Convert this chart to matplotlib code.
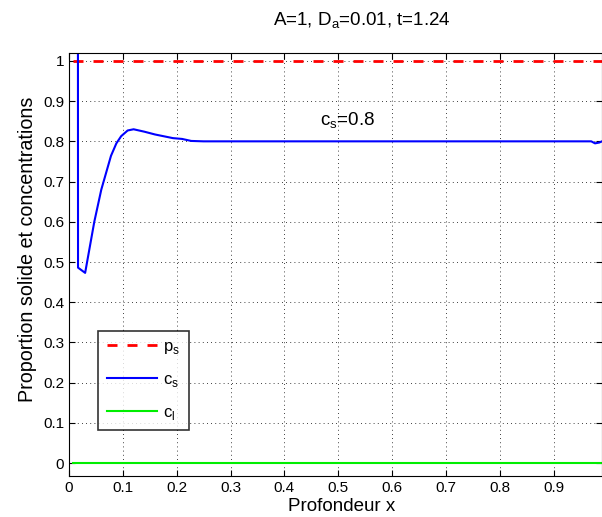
import matplotlib
matplotlib.use("Agg")
import matplotlib.pyplot as plt
import numpy as np

plt.rcParams['font.family'] = ['Liberation Sans', 'DejaVu Sans']

# depth grid for the flat profiles
x_flat = [0.008, 0.99]
ps_flat = [1.0, 1.0]
cl_flat = [0.0, 0.0]

# c_s profile
cs_x = [0.016, 0.0168, 0.03, 0.047, 0.06, 0.078, 0.088, 0.097, 0.109, 0.12,
        0.14, 0.16, 0.193, 0.21, 0.227, 0.25, 0.5, 0.97, 0.977, 0.985, 0.99]
cs_y = [3.0, 0.486, 0.473, 0.60, 0.68, 0.764, 0.795, 0.813, 0.827, 0.830,
        0.824, 0.817, 0.808, 0.806, 0.801, 0.800, 0.800, 0.800, 0.795, 0.797, 0.800]

xticks = np.arange(0, 0.95, 0.1)
yticks = np.arange(0, 1.05, 0.1)


def fmt(v):
    return "%g" % round(v, 2)


fig = plt.figure(figsize=(6.02, 5.17), dpi=100)
ax = fig.add_axes([0.1146, 0.0793, 0.8854, 0.8177])

ax.plot(x_flat, ps_flat, color='red', linestyle='--', linewidth=2.0, dashes=(3.6, 3.6), label='p$_\\mathregular{s}$')
ax.plot(cs_x, cs_y, color='blue', linewidth=1.5, label='c$_\\mathregular{s}$')
ax.plot(x_flat, cl_flat, color='#00ee00', linewidth=1.5, label='c$_\\mathregular{l}$')

ax.set_xlim(0, 0.99)
ax.set_ylim(-0.032, 1.019)
ax.set_xticks(xticks)
ax.set_xticklabels([fmt(v) for v in xticks])
ax.set_yticks(yticks)
ax.set_yticklabels([fmt(v) for v in yticks])
ax.tick_params(direction='in', top=True, right=True, labelsize=11, length=4)
ax.grid(True, color='black', linestyle=(0, (1, 4)), linewidth=0.6)

ax.set_xlabel('Profondeur x', fontsize=13.5, labelpad=2, x=0.512)
ax.set_ylabel('Proportion solide et concentrations', fontsize=14.2, y=0.537)
ax.set_title('A=1, D$_\\mathregular{a}$=0.01, t=1.24', fontsize=13.5, pad=20, x=0.549)

ax.text(0.466, 0.852, 'c$_\\mathregular{s}$=0.8', fontsize=13.5, ha='left', va='center')

leg = ax.legend(loc='upper left', bbox_to_anchor=(0.055, 0.343), fontsize=12,
                handlelength=3.0, frameon=True, fancybox=False, edgecolor='black',
                borderpad=0.5, labelspacing=0.95, handletextpad=0.4, borderaxespad=0)
leg.get_frame().set_linewidth(1.2)

fig.savefig('out.png', dpi=100)
